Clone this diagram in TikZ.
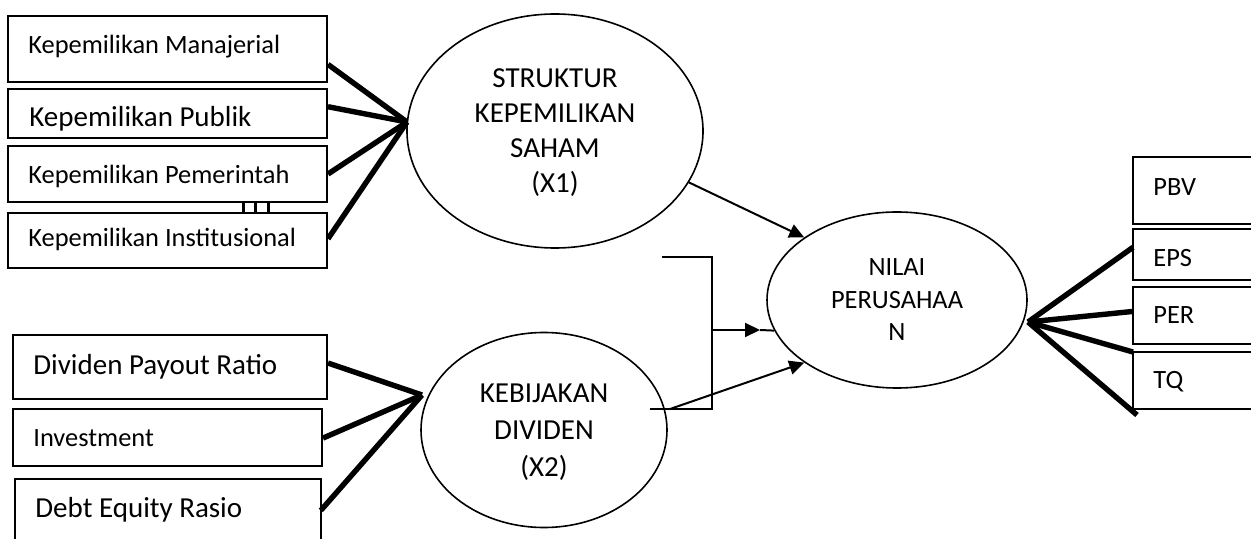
\documentclass[tikz,border=0pt]{standalone}
\usepackage{fontspec}
\setmainfont{Carlito}
\usetikzlibrary{shapes.geometric,arrows.meta,calc}
\begin{document}
\begin{tikzpicture}[x=0.5pt,y=-0.5pt,
  box/.style={draw, line width=1pt, rectangle, inner sep=0pt, anchor=north west},
  openbox/.style={rectangle, inner sep=0pt, anchor=north west},
  boxline/.style={line width=1pt},
  lbl/.style={anchor=base west, inner sep=0pt},
  fsmall/.style={font=\fontsize{13.2}{16}\selectfont},
  fbig/.style={font=\fontsize{14.5}{17.5}\selectfont},
  ell/.style={draw, ellipse, line width=0.8pt, inner sep=0pt, align=center, text depth=0pt},
  fan/.style={line width=2.7pt},
  conn/.style={line width=1pt},
  arr/.style={line width=1pt, -{Triangle[length=7.5pt,width=7pt]}}
]
\useasboundingbox (0,0) rectangle (1251,539);

% left boxes, X1 indicators
\node[box, minimum width=159.5pt, minimum height=33pt] (man) at (7,15) {};
\node[box, minimum width=159.5pt, minimum height=24.5pt] (pub) at (7,88) {};
\node[box, minimum width=159.5pt, minimum height=28pt] (pem) at (7,145) {};
\node[box, minimum width=159.5pt, minimum height=27.5pt] (ins) at (7,212) {};
\node[lbl, fsmall] (manT) at (28,53.5) {Kepemilikan Manajerial};
\node[lbl, fbig] (pubT) at (29,127) {Kepemilikan Publik};
\node[lbl, fsmall] (pemT) at (28,183.5) {Kepemilikan Pemerintah};
\node[lbl, fsmall] (insT) at (28,246.5) {Kepemilikan Institusional};
\draw[line width=1.6pt] (243.5,201) -- (243.5,212) (255.5,201) -- (255.5,212) (268.5,201) -- (268.5,212);

% left boxes, X2 indicators
\node[box, minimum width=157pt, minimum height=32pt] (dpr) at (12,334) {};
\node[box, minimum width=154.5pt, minimum height=28.5pt] (inv) at (12,408) {};
\node[openbox, minimum width=152.5pt, minimum height=30pt] (der) at (15,479) {};
\draw[boxline] (der.south west) -- (der.north west) -- (der.north east) -- (der.south east);
\node[lbl, fbig] (dprT) at (33,374) {Dividen Payout Ratio};
\node[lbl, fsmall] (invT) at (33,446.5) {Investment};
\node[lbl, fbig] (derT) at (35,517) {Debt Equity Rasio};

% right boxes, Y indicators
\node[openbox, minimum width=59pt, minimum height=33pt] (pbv) at (1133,157) {};
\node[openbox, minimum width=59pt, minimum height=25pt] (eps) at (1133,229) {};
\node[openbox, minimum width=59pt, minimum height=28pt] (per) at (1133,287) {};
\node[openbox, minimum width=59pt, minimum height=28pt] (tq) at (1133,352) {};
\foreach \b in {pbv,eps,per,tq}
  \draw[boxline] (\b.north east) -- (\b.north west) -- (\b.south west) -- (\b.south east);
\node[lbl, fsmall] (pbvT) at (1153,195.5) {PBV};
\node[lbl, fsmall] (epsT) at (1153,266.5) {EPS};
\node[lbl, fsmall] (perT) at (1153,323.5) {PER};
\node[lbl, fsmall] (tqT) at (1153,388.5) {TQ};

% ellipses
\node[ell, fbig, minimum width=148pt, minimum height=117pt] (x1) at (555,131)
  {STRUKTUR\\KEPEMILIKAN\\SAHAM\\(X1)};
\node[ell, font=\fontsize{14.5}{18.5}\selectfont, minimum width=123pt, minimum height=97.5pt] (x2) at (544,430)
  {KEBIJAKAN\\DIVIDEN\\(X2)};
\node[ell, font=\fontsize{13.2}{16.25}\selectfont, minimum width=130pt, minimum height=88pt] (y) at (897,300)
  {NILAI\\PERUSAHAA\\N};

% fans
\coordinate (f1) at (407,122);
\coordinate (f2) at (422,395);
\coordinate (f3) at (1028,322);
\draw[fan] ($(man.north east)!0.727!(man.south east)$) -- (f1);
\draw[fan] ($(pub.north east)!0.367!(pub.south east)$) -- (f1);
\draw[fan] ($(pem.north east)!0.5!(pem.south east)$) -- (f1);
\draw[fan] ($(ins.north east)!0.47!(ins.south east)$) -- (f1);
\draw[fan] ($(dpr.north east)!0.44!(dpr.south east)$) -- (f2);
\draw[fan] ($(inv.north east)!0.51!(inv.south east)$) -- (f2);
\draw[fan] ($(der.north east)!0.517!(der.south east)$) -- (f2);
\coordinate (f3e) at (1137,415);
\draw[fan] (f3) -- ($(eps.north west)!0.36!(eps.south west)$);
\draw[fan] (f3) -- ($(per.north west)!0.43!(per.south west)$);
\draw[fan] (f3) -- (tq.north west);
\draw[fan] (f3) -- (f3e);

% structural connectors
\coordinate (bt) at (662,257);
\coordinate (bc) at (712,257);
\coordinate (bb) at (712,409);
\coordinate (bl) at (650,409);
\coordinate (b3) at (712,330);
\coordinate (tip3) at (760,330);
\coordinate (a2s) at (670,409);
\draw[conn] (bt) -- (bc) -- (bb) -- (bl);
\draw[arr] (x1.-21) -- (y.146);
\draw[arr] (a2s) -- (y.214);
\draw[arr] (b3) -- (tip3);
\draw[conn] (tip3) -- (y.194);
\end{tikzpicture}
\end{document}
